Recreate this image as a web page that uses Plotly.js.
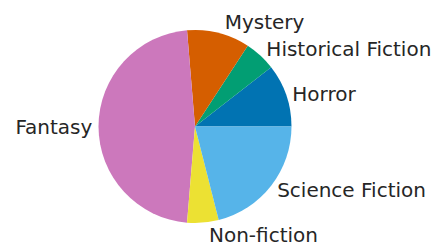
<!DOCTYPE html>
<html>
<head>
<script src="https://cdn.plot.ly/plotly-3.0.1.min.js"></script>
<style>html,body{margin:0;padding:0;background:#fff;}</style>
</head>
<body>
<div id="chart" style="width:438px;height:246px;"></div>
<script>
const genres = ["Horror", "Historical Fiction", "Mystery", "Fantasy", "Non-fiction", "Science Fiction"];
const counts = [10, 5, 10, 45, 5, 20];
const colors = ["#0173b2", "#029e73", "#d55e00", "#cc78bc", "#ece133", "#56b4e9"];

const total = counts.reduce((a, b) => a + b, 0);
// start the first slice at 3 o'clock and go counterclockwise
const rot = 90 - 360 * counts[0] / total;

Plotly.newPlot("chart", [{
  type: "pie",
  labels: genres,
  values: counts,
  sort: false,
  direction: "counterclockwise",
  rotation: rot,
  marker: {colors: colors, line: {width: 0}},
  textinfo: "label",
  textposition: "outside",
  outsidetextfont: {family: "DejaVu Sans", size: 20, color: "#262626"},
  hoverinfo: "none",
  showlegend: false,
  domain: {x: [0.2237, 0.6667], y: [0.0935, 0.8780]}
}], {
  width: 438, height: 246,
  margin: {l: 0, r: 0, t: 0, b: 0},
  paper_bgcolor: "#fff",
  showlegend: false
}, {displayModeBar: false, staticPlot: true});
</script>
</body>
</html>
